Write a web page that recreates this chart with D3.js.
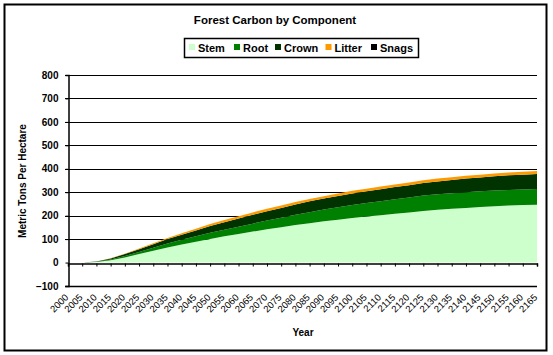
<!DOCTYPE html>
<html><head><meta charset="utf-8">
<script src="https://cdn.jsdelivr.net/npm/d3@7/dist/d3.min.js"></script>
<style>body{margin:0;background:#fff}svg{display:block}</style>
</head><body>
<svg id="c" width="553" height="355"></svg>
<script>
const years = [2000,2005,2010,2015,2020,2025,2030,2035,2040,2045,2050,2055,2060,2065,2070,2075,2080,2085,2090,2095,2100,2105,2110,2115,2120,2125,2130,2135,2140,2145,2150,2155,2160,2165];
const stem   = [0,0,2,10,22,36,50,64,77,89,101,112,122,132,142,151,160,168,176,183,190,196,202,208,214,220,225,229,233,237,240,243,245,247];
const root   = [0,0,1,3,6,9,13,17,20,23,26,28,31,34,37,40,44,47,50,53,56,58,60,62,64,66,66,67,67,67,67,67,67,67];
const crown  = [0,0,2,4,8,12,15,19,22,25,29,32,35,38,40,42,44,46,47,48,49,50,51,52,52,53,55,56,58,59,61,62,63,64];
const litter = [0,0,0,1,2,3,4,5,6,7,8,9,10,10,10,10,10,10,10,11,11,11,11,11,12,12,12,12,12,12,12,12,12,13];
const snags  = [0,0,0,0,0,0,0,0,0,0,0,0,0,0,0,0,0,0,0,0,0,0,0,0,0,0,0,0,0,0,0,0,0,0];
const yTicks = [-100,0,100,200,300,400,500,600,700,800];
const seriesNames = ["Stem","Root","Crown","Litter","Snags"];
const seriesColors = ["#CCFFCC","#008000","#003300","#FF9900","#000000"];
const title = "Forest Carbon by Component";
const yTitle = "Metric Tons Per Hectare";
const xTitle = "Year";

const rows = years.map((yr,i)=>({year:yr, Stem:stem[i], Root:root[i], Crown:crown[i], Litter:litter[i], Snags:snags[i]}));
const font = "Arial, 'Liberation Sans', sans-serif";
const svg = d3.select("#c");

svg.append("rect").attr("x",4.5).attr("y",4.5).attr("width",542).attr("height",346)
  .attr("fill","#fff").attr("stroke","#000").attr("stroke-width",2);

const x = d3.scaleLinear().domain([2000,2165]).range([68,537]);
const y = d3.scaleLinear().domain([-100,800]).range([286,75]);

// gridlines
svg.append("g").selectAll("line").data(yTicks.filter(v=>v>0)).join("line")
  .attr("x1",65).attr("x2",537).attr("y1",d=>Math.round(y(d))+0.5).attr("y2",d=>Math.round(y(d))+0.5)
  .attr("stroke","#000").attr("stroke-width",1);

// stacked areas
const stack = d3.stack().keys(seriesNames);
const layers = stack(rows);
const area = d3.area().x(d=>x(d.data.year)).y0(d=>y(d[0])).y1(d=>y(d[1]));
svg.append("g").selectAll("path").data(layers).join("path")
  .attr("d",area).attr("fill",(d,i)=>seriesColors[i]);

// y axis
const ya = svg.append("g").attr("transform","translate(68.5,0)")
  .call(d3.axisLeft(y).tickValues(yTicks).tickSize(3).tickFormat(d3.format("d")));
ya.select(".domain").attr("stroke","#000").attr("stroke-width",1.5);
ya.selectAll("text").attr("font-family",font).attr("font-size",10).attr("font-weight","bold").attr("x",-10).attr("fill","#000");
ya.selectAll(".tick line").attr("stroke","#000");

// bottom line at -100
svg.append("line").attr("x1",65).attr("x2",537).attr("y1",Math.round(y(-100))+0.5).attr("y2",Math.round(y(-100))+0.5)
  .attr("stroke","#000").attr("stroke-width",1.5);

// category axis at 0
const xa = svg.append("g").attr("transform",`translate(0,${Math.round(y(0))+0.5})`)
  .call(d3.axisBottom(x).tickValues(years).tickSize(3).tickFormat(""));
xa.select(".domain").attr("stroke","#000").attr("stroke-width",1.5);
xa.selectAll(".tick line").attr("stroke","#000");

// category labels rotated
svg.append("g").selectAll("text").data(years).join("text")
  .attr("transform",d=>`translate(${x(d)+1},${298}) rotate(-45)`)
  .attr("text-anchor","end").attr("font-family",font).attr("font-size",9.5).attr("fill","#000")
  .text(d=>d);

// titles
svg.append("text").attr("x",275).attr("y",24).attr("text-anchor","middle")
  .attr("font-family",font).attr("font-size",11.5).attr("font-weight","bold").text(title);
svg.append("text").attr("transform",`translate(26,181) rotate(-90)`).attr("text-anchor","middle")
  .attr("font-family",font).attr("font-size",10).attr("font-weight","bold").text(yTitle);
svg.append("text").attr("x",303).attr("y",336).attr("text-anchor","middle")
  .attr("font-family",font).attr("font-size",10).attr("font-weight","bold").text(xTitle);

// legend
const lg = svg.append("g");
lg.append("rect").attr("x",184.5).attr("y",38.5).attr("width",234).attr("height",19)
  .attr("fill","#fff").attr("stroke","#000").attr("stroke-width",1.5);
const legX = [189,234,275,325.5,371];
seriesNames.forEach((n,i)=>{
  lg.append("rect").attr("x",legX[i]).attr("y",44).attr("width",6).attr("height",6).attr("fill",seriesColors[i]);
  lg.append("text").attr("x",legX[i]+9).attr("y",51.5).attr("font-family",font).attr("font-size",11)
    .attr("font-weight","bold").text(n);
});
</script>
</body></html>
